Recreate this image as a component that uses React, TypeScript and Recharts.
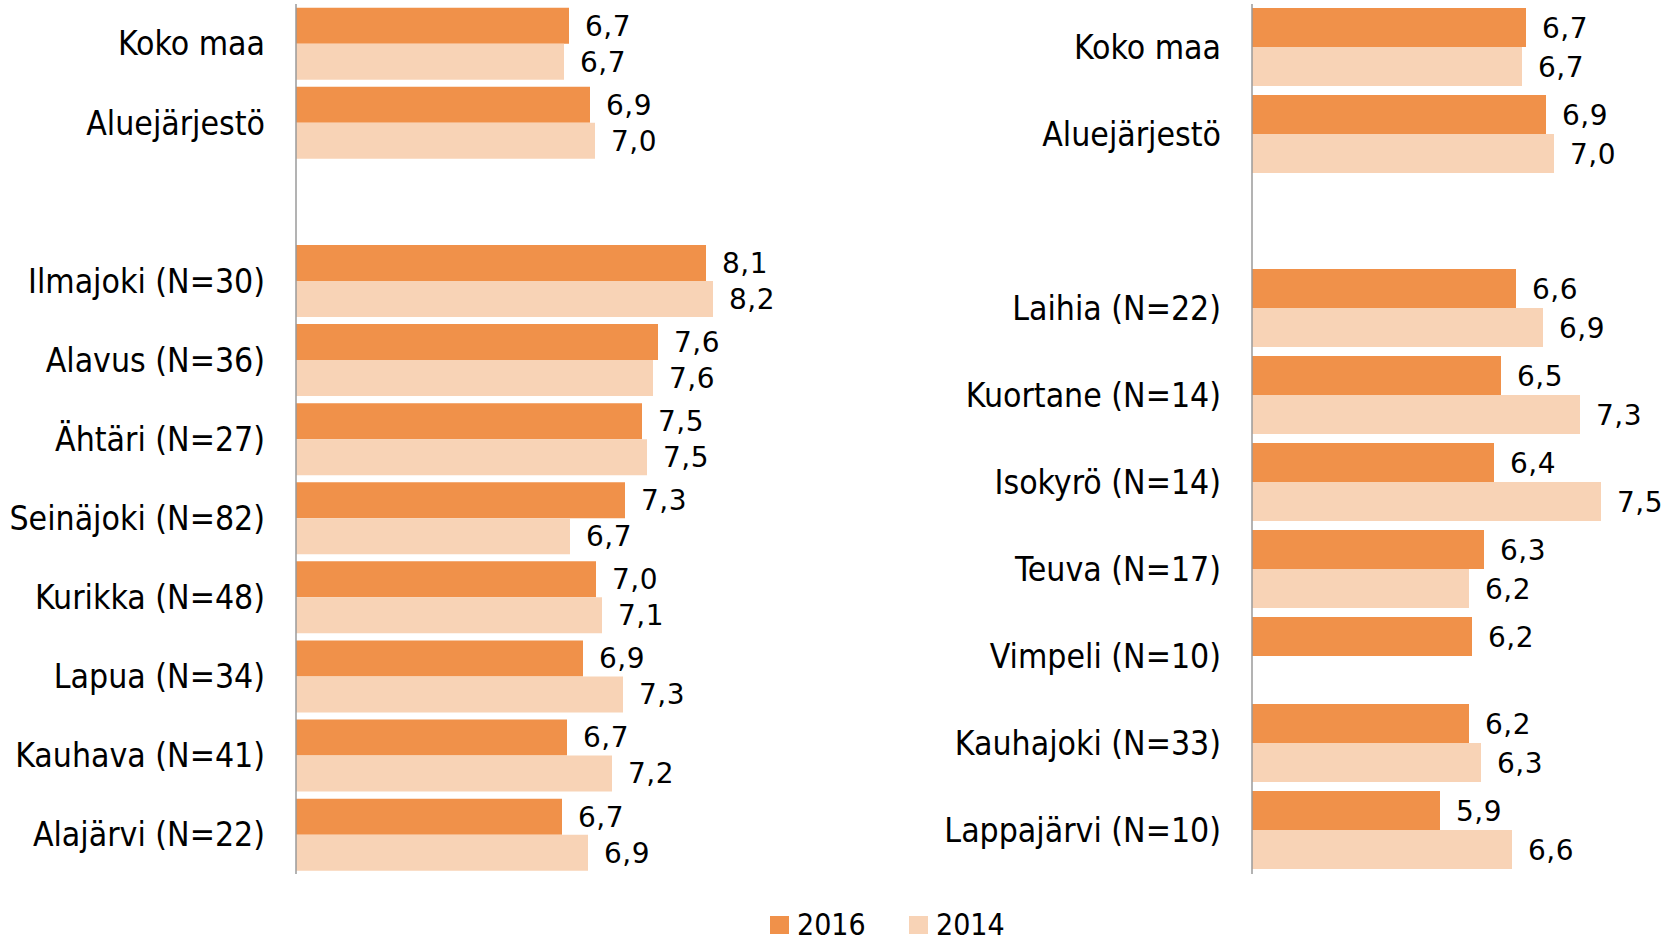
import { BarChart, Bar, XAxis, YAxis, LabelList } from "recharts";

const leftCategories = [
  "Koko maa",
  "Aluejärjestö",
  "",
  "Ilmajoki (N=30)",
  "Alavus (N=36)",
  "Ähtäri (N=27)",
  "Seinäjoki (N=82)",
  "Kurikka (N=48)",
  "Lapua (N=34)",
  "Kauhava (N=41)",
  "Alajärvi (N=22)",
];
const left2016 = [6.73, 6.94, null, 8.1, 7.62, 7.46, 7.29, 7.0, 6.87, 6.71, 6.66];
const left2014 = [6.68, 6.99, null, 8.17, 7.57, 7.51, 6.74, 7.06, 7.27, 7.16, 6.92];

const rightCategories = [
  "Koko maa",
  "Aluejärjestö",
  "",
  "Laihia (N=22)",
  "Kuortane (N=14)",
  "Isokyrö (N=14)",
  "Teuva (N=17)",
  "Vimpeli (N=10)",
  "Kauhajoki (N=33)",
  "Lappajärvi (N=10)",
];
const right2016 = [6.74, 6.94, null, 6.64, 6.49, 6.42, 6.32, 6.2, 6.17, 5.88];
const right2014 = [6.7, 7.02, null, 6.91, 7.28, 7.49, 6.17, null, 6.29, 6.6];

const seriesNames = ["2016", "2014"];
const COLORS = ["#F0914A", "#F8D3B6"];
const FONT = "'DejaVu Sans Condensed', 'DejaVu Sans', sans-serif";
const VALUE_FONT = "'DejaVu Sans', sans-serif";

function toRows(names: string[], a: (number | null)[], b: (number | null)[]) {
  return names.map((name, i) => ({ name, y2016: a[i], y2014: b[i] }));
}

const fmt = (v: unknown) =>
  typeof v === "number" ? v.toFixed(1).replace(".", ",") : "";

function Panel({ data, width, axisWidth, max, right }: {
  data: { name: string; y2016: number | null; y2014: number | null }[];
  width: number;
  axisWidth: number;
  max: number;
  right: number;
}) {
  const labelStyle = { fill: "#000", fontSize: 28, fontFamily: VALUE_FONT, letterSpacing: 0.5 };
  return (
    <BarChart
      width={width}
      height={880}
      data={data}
      layout="vertical"
      margin={{ top: 4, right, left: 0, bottom: 6 }}
      barCategoryGap="4.7%"
      barGap={0}
    >
      <XAxis type="number" domain={[4, max]} hide />
      <YAxis
        type="category"
        dataKey="name"
        width={axisWidth}
        tickLine={false}
        tickSize={0}
        tickMargin={31}
        axisLine={{ stroke: "#9a9a9a", strokeWidth: 1.5 }}
        tick={{ fill: "#000", fontSize: 33.5, fontFamily: FONT }}
        interval={0}
      />
      <Bar dataKey="y2016" fill={COLORS[0]} isAnimationActive={false}>
        <LabelList dataKey="y2016" position="right" offset={16} formatter={fmt} style={labelStyle} />
      </Bar>
      <Bar dataKey="y2014" fill={COLORS[1]} isAnimationActive={false}>
        <LabelList dataKey="y2014" position="right" offset={16} formatter={fmt} style={labelStyle} />
      </Bar>
    </BarChart>
  );
}

export default function App() {
  const leftData = toRows(leftCategories, left2016, left2014);
  const rightData = toRows(rightCategories, right2016, right2014);
  const legendX = [770, 909];

  return (
    <div
      style={{
        position: "absolute",
        left: 0,
        top: 0,
        width: 1676,
        height: 941,
        background: "#fff",
        overflow: "hidden",
      }}
    >
      <div style={{ position: "absolute", left: 0, top: 0 }}>
        <Panel data={leftData} width={900} axisWidth={296} max={9} right={104} />
      </div>
      <div style={{ position: "absolute", left: 900, top: 0 }}>
        <Panel data={rightData} width={776} axisWidth={352} max={8} right={24} />
      </div>
      {seriesNames.map((s, i) => (
        <div
          key={s}
          style={{
            position: "absolute",
            left: legendX[i],
            top: 910,
            height: 30,
            lineHeight: "30px",
            display: "flex",
            alignItems: "center",
            fontFamily: FONT,
            fontSize: 30,
            color: "#000",
          }}
        >
          <span
            style={{
              display: "inline-block",
              width: 19,
              height: 18,
              background: COLORS[i],
              marginRight: 8,
            }}
          />
          {s}
        </div>
      ))}
    </div>
  );
}
